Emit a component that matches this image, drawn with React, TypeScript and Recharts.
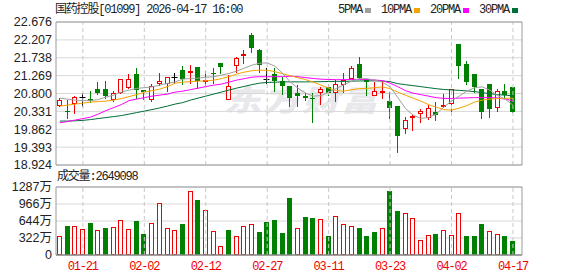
import React from "react";
import { ComposedChart, Bar, Line, XAxis, YAxis, CartesianGrid, ReferenceLine } from "recharts";

const TITLE = "国药控股[01099] 2026-04-17 16:00";
const LAST_VOLUME = "2649098";

const DATES = [
  "01-16", "01-19", "01-20", "01-21", "01-22", "01-23", "01-26", "01-27", "01-28", "01-29",
  "01-30", "02-02", "02-03", "02-04", "02-05", "02-06", "02-09", "02-10", "02-11", "02-12",
  "02-13", "02-16", "02-20", "02-23", "02-24", "02-25", "02-26", "02-27", "03-02", "03-03",
  "03-04", "03-05", "03-06", "03-09", "03-10", "03-11", "03-12", "03-13", "03-16", "03-17",
  "03-18", "03-19", "03-20", "03-23", "03-24", "03-25", "03-26", "03-27", "03-30", "03-31",
  "04-01", "04-02", "04-08", "04-09", "04-10", "04-13", "04-14", "04-15", "04-16", "04-17",
];
const DATE_TICKS = ["01-21", "02-02", "02-12", "02-27", "03-11", "03-23", "04-02", "04-17"];

const OPEN = [
  20.46, 20.35, 20.52, 20.7, 20.65, 20.91, 20.91, 20.63, 20.82, 20.94,
  21.31, 20.88, 20.63, 21.06, 21.045, 21.22, 21.41, 21.33, 21.49, 21.14,
  21.35, 21.6, 20.62, 21.51, 21.78, 22.33, 21.94, 21.17, 21.31, 21.12,
  20.99, 20.82, 20.73, 20.69, 20.82, 20.98, 20.8, 21.02, 21.18, 21.57,
  21.18, 20.73, 20.85, 20.61, 20.48, 19.87, 20.19, 20.25, 20.16, 20.31,
  20.44, 20.52, 22.09, 21.57, 21.31, 20.93, 21.05, 20.41, 20.86, 20.97,
];
const HIGH = [
  20.67, 20.63, 20.73, 20.8, 20.86, 21.1, 21.12, 20.86, 21.17, 21.31,
  21.46, 20.88, 21.06, 21.35, 21.22, 21.35, 21.52, 21.54, 21.49, 21.39,
  21.48, 21.6, 21.28, 21.76, 21.94, 22.4, 21.98, 21.47, 21.47, 21.24,
  20.99, 21.02, 20.8, 20.8, 20.98, 21.06, 21.15, 21.33, 21.52, 21.76,
  21.18, 21.1, 21.13, 20.84, 20.48, 20.19, 20.26, 20.39, 20.5, 20.58,
  20.78, 20.92, 22.09, 21.65, 21.31, 20.93, 21.05, 20.91, 21.05, 20.97,
];
const LOW = [
  20.435, 20.13, 20.25, 20.435, 20.54, 20.76, 20.65, 20.57, 20.78, 20.91,
  20.65, 20.63, 20.58, 20.99, 20.84, 21.06, 21.02, 21.06, 20.93, 21.0,
  21.06, 21.3, 20.62, 21.33, 21.57, 21.85, 21.33, 21.06, 20.84, 20.76,
  20.44, 20.45, 20.6, 20.03, 20.51, 20.74, 20.58, 20.8, 21.18, 21.18,
  20.74, 20.73, 20.65, 20.13, 19.25, 19.75, 19.82, 20.03, 20.1, 20.09,
  20.41, 20.32, 21.19, 21.02, 20.8, 20.12, 20.15, 20.32, 20.65, 20.28,
];
const CLOSE = [
  20.62, 20.33, 20.7, 20.7, 20.6, 20.82, 20.73, 20.8, 21.17, 21.19,
  20.89, 20.83, 20.99, 21.12, 21.22, 21.22, 21.18, 21.39, 21.12, 21.15,
  21.32, 21.5, 20.99, 21.72, 21.83, 22.0, 21.56, 21.17, 21.13, 21.0,
  20.67, 20.73, 20.69, 20.66, 20.93, 20.82, 21.06, 21.15, 21.46, 21.21,
  21.09, 20.86, 20.87, 20.43, 19.69, 20.1, 20.21, 20.34, 20.41, 20.23,
  20.49, 20.92, 21.52, 21.11, 20.96, 20.32, 20.39, 20.86, 20.76, 20.32,
];
// 成交量，单位：万
const VOLUME = [
  358, 546, 546, 490, 609, 471, 515, 528, 659, 490,
  641, 396, 597, 992, 509, 471, 584, 1206, 1042, 848,
  452, 170, 471, 358, 546, 584, 433, 622, 659, 414,
  1074, 509, 716, 697, 678, 358, 735, 584, 546, 509,
  358, 433, 509, 1206, 829, 804, 697, 276, 371, 396,
  465, 371, 804, 358, 358, 584, 446, 389, 358, 264.9098,
];

const MA5 = [
  20.679, 20.652, 20.626, 20.613, 20.613, 20.639, 20.705, 20.757, 20.836, 20.888,
  20.933, 20.953, 20.974, 21.019, 21.063, 21.105, 21.176, 21.194, 21.202, 21.228,
  21.236, 21.281, 21.325, 21.385, 21.464, 21.542, 21.595, 21.603, 21.516, 21.333,
  21.105, 20.94, 20.809, 20.731, 20.744, 20.836, 20.933, 21.032, 21.124, 21.189,
  21.189, 21.15, 21.097, 20.974, 20.697, 20.409, 20.234, 20.147, 20.168, 20.26,
  20.443, 20.6, 20.731, 20.862, 20.953, 20.974, 20.888, 20.744, 20.652, 20.495,
];
const MA10 = [
  20.469, 20.495, 20.522, 20.548, 20.574, 20.587, 20.6, 20.626, 20.666, 20.718,
  20.77, 20.836, 20.875, 20.914, 20.98, 21.071, 21.097, 21.11, 21.124, 21.131,
  21.15, 21.189, 21.241, 21.307, 21.359, 21.398, 21.412, 21.412, 21.372, 21.32,
  21.268, 21.215, 21.163, 21.097, 21.019, 20.94, 20.875, 20.862, 20.901, 20.927,
  20.933, 20.953, 20.974, 20.927, 20.836, 20.757, 20.679, 20.6, 20.508, 20.443,
  20.378, 20.364, 20.417, 20.482, 20.574, 20.626, 20.652, 20.666, 20.671, 20.679,
];
const MA20 = [
  20.032, 20.063, 20.103, 20.142, 20.181, 20.26, 20.351, 20.43, 20.508, 20.613,
  20.652, 20.692, 20.731, 20.757, 20.783, 20.836, 20.862, 20.901, 20.94, 20.98,
  21.019, 21.045, 21.097, 21.15, 21.189, 21.228, 21.241, 21.241, 21.241, 21.241,
  21.254, 21.241, 21.215, 21.194, 21.176, 21.168, 21.163, 21.163, 21.168, 21.168,
  21.168, 21.155, 21.137, 21.071, 20.98, 20.875, 20.809, 20.77, 20.731, 20.692,
  20.671, 20.671, 20.679, 20.684, 20.692, 20.692, 20.692, 20.684, 20.652, 20.608,
];
const MA30 = [
  20.077, 20.077, 20.084, 20.095, 20.116, 20.142, 20.168, 20.194, 20.22, 20.26,
  20.299, 20.338, 20.378, 20.422, 20.469, 20.522, 20.561, 20.626, 20.679, 20.731,
  20.783, 20.836, 20.888, 20.94, 20.985, 21.032, 21.071, 21.09, 21.097, 21.103,
  21.105, 21.105, 21.105, 21.108, 21.11, 21.116, 21.118, 21.118, 21.124, 21.129,
  21.131, 21.131, 21.129, 21.11, 21.058, 21.032, 21.006, 20.98, 20.953, 20.927,
  20.906, 20.893, 20.883, 20.867, 20.849, 20.823, 20.796, 20.77, 20.757, 20.739,
];

const PRICE_TICKS = [18.924, 19.393, 19.862, 20.331, 20.8, 21.269, 21.738, 22.207, 22.676];
const VOL_TICKS = [0, 321.85, 643.7, 965.55, 1287.4];
const VOL_TICK_LABELS = ["0", "322万", "644万", "966万", "1287万"];

const RED = "#f00000";
const GREEN = "#008000";
const DOJI = "#000000";
const BORDER = "#9a9a9a";
const GRID = "#d8d8d8";
const DASH = "#c8c8c8";

const MA_SERIES = [
  { key: "ma5", label: "5PMA", color: "#a0a0a0" },
  { key: "ma10", label: "10PMA", color: "#f5a300" },
  { key: "ma20", label: "20PMA", color: "#ff00ff" },
  { key: "ma30", label: "30PMA", color: "#006f35" },
];

const X_DOMAIN: [number, number] = [-0.5, 60.18];
const MONO = '"Liberation Mono", "Noto Sans CJK SC", monospace';
const SANS = '"Liberation Sans", "Noto Sans CJK SC", sans-serif';

const rows = DATES.map((date, i) => ({
  idx: i,
  date,
  open: OPEN[i],
  high: HIGH[i],
  low: LOW[i],
  close: CLOSE[i],
  range: [LOW[i], HIGH[i]],
  volume: VOLUME[i],
  volUp: i === 0 ? CLOSE[i] >= OPEN[i] : CLOSE[i] >= CLOSE[i - 1],
  ma5: MA5[i],
  ma10: MA10[i],
  ma20: MA20[i],
  ma30: MA30[i],
}));

const tickIdx = DATE_TICKS.map((d) => DATES.indexOf(d));

function Candle(props: any) {
  const { x, y, width, height, payload } = props;
  if (x == null || y == null) return null;
  const { open, close, high, low } = payload;
  const top = Math.min(y, y + height);
  const h = Math.abs(height);
  const span = high - low || 1;
  const py = (v: number) => top + ((high - v) / span) * h;
  const cx = Math.floor(x + width / 2) + 0.5;
  const yh = Math.round(py(high));
  const yl = Math.round(py(low));
  if (close > open) {
    const bt = Math.round(py(close));
    const bb = Math.round(py(open));
    return (
      <g>
        <line x1={cx} x2={cx} y1={yh} y2={bt} stroke={RED} />
        <line x1={cx} x2={cx} y1={bb} y2={yl} stroke={RED} />
        <rect x={cx - 2} y={bt + 0.5} width={4} height={Math.max(1, bb - bt - 1)} fill="#fff" stroke={RED} />
      </g>
    );
  }
  if (close < open) {
    const bt = Math.round(py(open));
    const bb = Math.round(py(close));
    return (
      <g>
        <line x1={cx} x2={cx} y1={yh} y2={yl} stroke={GREEN} />
        <rect x={cx - 2.5} y={bt} width={5} height={Math.max(1, bb - bt)} fill={GREEN} />
      </g>
    );
  }
  const ym = Math.round(py(open)) + 0.5;
  return (
    <g>
      <line x1={cx} x2={cx} y1={yh} y2={yl} stroke={DOJI} />
      <line x1={cx - 3} x2={cx + 3} y1={ym} y2={ym} stroke={DOJI} />
    </g>
  );
}

function VolumeBar(props: any) {
  const { x, y, width, height, payload } = props;
  if (x == null || y == null) return null;
  const cx = Math.floor(x + width / 2) + 0.5;
  const top = Math.round(y);
  const bottom = Math.round(y + height);
  if (payload.volUp) {
    return (
      <rect x={cx - 2} y={top + 0.5} width={4} height={Math.max(1, bottom - top - 1)} fill="#fff" stroke={RED} />
    );
  }
  return <rect x={cx - 2.5} y={top} width={5} height={Math.max(1, bottom - top)} fill={GREEN} />;
}

export default function App() {
  return (
    <div
      style={{
        position: "absolute",
        left: 0,
        top: 0,
        width: 578,
        height: 276,
        overflow: "hidden",
        background: "#fff",
      }}
    >
      {/* watermark */}
      <div
        style={{
          position: "absolute",
          left: 224,
          top: 78,
          fontFamily: '"Noto Sans CJK SC", sans-serif',
          fontWeight: 900,
          fontStyle: "italic",
          fontSize: 37,
          lineHeight: "40px",
          color: "#e8e8ec",
          letterSpacing: 2,
          transform: "scaleY(0.8)",
        }}
      >
        东方财富
      </div>

      <div
        style={{
          position: "absolute",
          left: 55,
          top: 2,
          fontFamily: MONO,
          fontSize: 12,
          lineHeight: "16px",
          letterSpacing: -1.2,
          color: "#222",
          whiteSpace: "nowrap",
        }}
      >
        {TITLE}
      </div>

      <div
        style={{
          position: "absolute",
          left: 338,
          top: 2,
          display: "flex",
          alignItems: "center",
          fontFamily: MONO,
          fontSize: 12,
          lineHeight: "16px",
          letterSpacing: -1.2,
          color: "#222",
          whiteSpace: "nowrap",
        }}
      >
        {MA_SERIES.map((m) => (
          <span key={m.key} style={{ display: "flex", alignItems: "center", marginRight: 10 }}>
            <span>{m.label}</span>
            <span style={{ display: "inline-block", width: 6, height: 5, marginLeft: 3, background: m.color }} />
          </span>
        ))}
      </div>

      <div style={{ position: "absolute", left: 0, top: 0 }}>
        <ComposedChart width={578} height={177} data={rows} margin={{ top: 22, right: 56, bottom: 12, left: 0 }}>
          <CartesianGrid vertical={false} stroke={GRID} />
          <XAxis dataKey="idx" type="number" domain={X_DOMAIN} allowDataOverflow hide />
          <YAxis
            type="number"
            domain={[PRICE_TICKS[0], PRICE_TICKS[PRICE_TICKS.length - 1]]}
            allowDataOverflow
            ticks={PRICE_TICKS}
            interval={0}
            width={56}
            axisLine={false}
            tickLine={false}
            tickSize={2}
            tickMargin={2}
            tickFormatter={(v: number) => v.toFixed(3)}
            tick={{ fill: "#222", fontSize: 12.5, fontFamily: SANS }}
          />
          {tickIdx.map((i) => (
            <ReferenceLine key={"v" + i} x={i} stroke={DASH} strokeDasharray="4 3" />
          ))}
          <ReferenceLine y={PRICE_TICKS[PRICE_TICKS.length - 1]} stroke={BORDER} />
          <ReferenceLine y={PRICE_TICKS[0]} stroke={BORDER} />
          <ReferenceLine x={X_DOMAIN[0]} stroke={BORDER} />
          <ReferenceLine x={X_DOMAIN[1]} stroke={BORDER} />
          {MA_SERIES.slice()
            .reverse()
            .map((m) => (
              <Line
                key={m.key}
                dataKey={m.key}
                type="linear"
                stroke={m.color}
                strokeWidth={1}
                dot={false}
                activeDot={false}
                isAnimationActive={false}
              />
            ))}
          <Bar dataKey="range" barSize={5} shape={(p: any) => <Candle {...p} />} isAnimationActive={false} />
        </ComposedChart>
      </div>

      <div
        style={{
          position: "absolute",
          left: 57,
          top: 169,
          fontFamily: MONO,
          fontSize: 12,
          lineHeight: "16px",
          letterSpacing: -1.2,
          color: "#222",
          whiteSpace: "nowrap",
        }}
      >
        成交量:{LAST_VOLUME}
      </div>

      <div style={{ position: "absolute", left: 0, top: 165 }}>
        <ComposedChart width={578} height={111} data={rows} margin={{ top: 22, right: 56, bottom: 0, left: 0 }}>
          <CartesianGrid vertical={false} stroke={GRID} />
          <XAxis
            dataKey="idx"
            type="number"
            domain={X_DOMAIN}
            allowDataOverflow
            ticks={tickIdx}
            interval={0}
            height={21}
            axisLine={false}
            tickLine={false}
            tickSize={6}
            tickMargin={0}
            tickFormatter={(i: number) => DATES[i]}
            tick={{ fill: RED, fontSize: 12, fontFamily: MONO, letterSpacing: -1.2 }}
          />
          <YAxis
            type="number"
            domain={[0, VOL_TICKS[VOL_TICKS.length - 1]]}
            allowDataOverflow
            ticks={VOL_TICKS}
            interval={0}
            width={56}
            axisLine={false}
            tickLine={false}
            tickSize={2}
            tickMargin={2}
            tickFormatter={(v: number) => VOL_TICK_LABELS[VOL_TICKS.indexOf(v)]}
            tick={{ fill: "#222", fontSize: 12.5, fontFamily: SANS }}
          />
          {tickIdx.map((i) => (
            <ReferenceLine key={"vv" + i} x={i} stroke={DASH} strokeDasharray="4 3" />
          ))}
          <ReferenceLine y={VOL_TICKS[VOL_TICKS.length - 1]} stroke={BORDER} />
          <ReferenceLine y={0} stroke="#888" strokeWidth={1.5} />
          <ReferenceLine x={X_DOMAIN[0]} stroke={BORDER} />
          <ReferenceLine x={X_DOMAIN[1]} stroke={BORDER} />
          <Bar dataKey="volume" barSize={5} shape={(p: any) => <VolumeBar {...p} />} isAnimationActive={false} />
        </ComposedChart>
      </div>
    </div>
  );
}
